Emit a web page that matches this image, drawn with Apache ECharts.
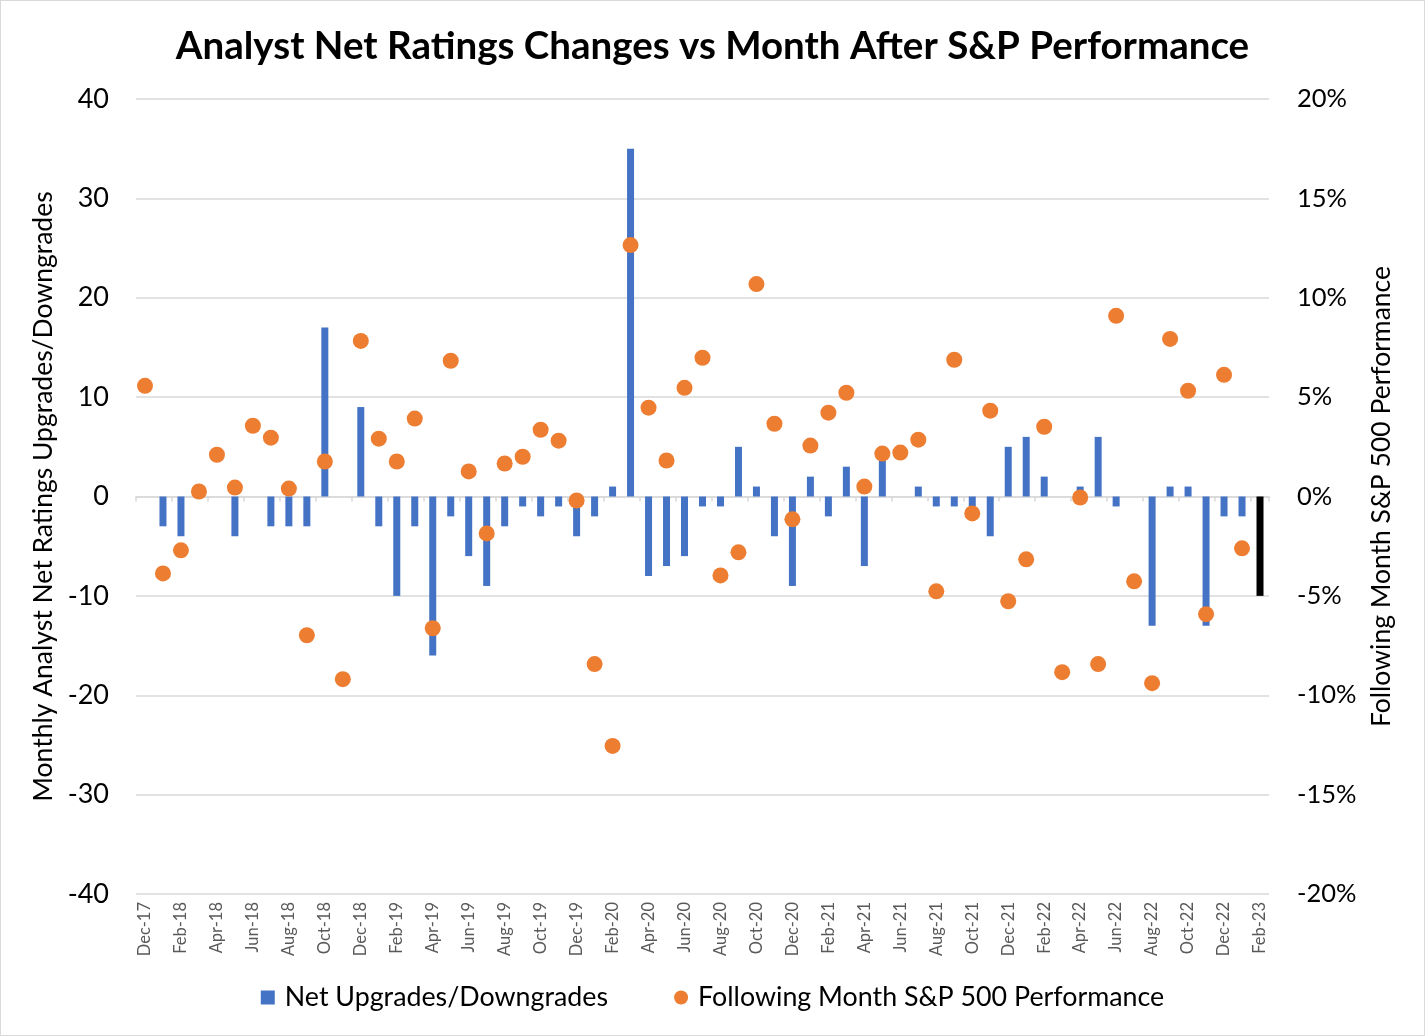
<!DOCTYPE html>
<html>
<head>
<meta charset="utf-8">
<script src="https://cdn.jsdelivr.net/npm/echarts@6/dist/echarts.min.js"></script>
<style>
html,body{margin:0;padding:0;background:#fff;}
#chart{width:1423px;height:1034px;border:1px solid #D9D9D9;}
</style>
</head>
<body>
<div id="chart"></div>
<script>
const months = ['Dec-17','Jan-18','Feb-18','Mar-18','Apr-18','May-18','Jun-18','Jul-18','Aug-18','Sep-18','Oct-18','Nov-18',
'Dec-18','Jan-19','Feb-19','Mar-19','Apr-19','May-19','Jun-19','Jul-19','Aug-19','Sep-19','Oct-19','Nov-19',
'Dec-19','Jan-20','Feb-20','Mar-20','Apr-20','May-20','Jun-20','Jul-20','Aug-20','Sep-20','Oct-20','Nov-20',
'Dec-20','Jan-21','Feb-21','Mar-21','Apr-21','May-21','Jun-21','Jul-21','Aug-21','Sep-21','Oct-21','Nov-21',
'Dec-21','Jan-22','Feb-22','Mar-22','Apr-22','May-22','Jun-22','Jul-22','Aug-22','Sep-22','Oct-22','Nov-22',
'Dec-22','Jan-23','Feb-23'];

const netRatings = [0,-3,-4,0,0,-4,0,-3,-3,-3,17,0,
9,-3,-10,-3,-16,-2,-6,-9,-3,-1,-2,-1,
-4,-2,1,35,-8,-7,-6,-1,-1,5,1,-4,
-9,2,-2,3,-7,4,0,1,-1,-1,-1,-4,
5,6,2,0,1,6,-1,0,-13,1,1,-13,
-2,-2,-10];

const spPerf = [5.57,-3.87,-2.71,0.25,2.1,0.45,3.56,2.96,0.4,-6.98,1.76,-9.19,
7.83,2.91,1.76,3.92,-6.63,6.83,1.26,-1.86,1.66,2.0,3.36,2.81,
-0.2,-8.43,-12.55,12.65,4.47,1.81,5.47,6.98,-3.97,-2.81,10.69,3.66,
-1.15,2.56,4.22,5.22,0.5,2.16,2.21,2.86,-4.77,6.88,-0.85,4.32,
-5.27,-3.16,3.51,-8.84,-0.05,-8.43,9.09,-4.27,-9.39,7.93,5.32,-5.92,
6.12,-2.61,null];

const leftTicks = {min:-40, max:40, interval:10};
const rightTicks = {min:-20, max:20, interval:5};

const blue = '#4472C4', orange = '#ED7D31';
const barData = netRatings.map((v,i)=> i === netRatings.length-1 ? {value:v, itemStyle:{color:'#000000'}} : v);

const chart = echarts.init(document.getElementById('chart'));
const font = 'Lato';
chart.setOption({
  animation:false,
  title:{
    text:'Analyst Net Ratings Changes vs Month After S&P Performance',
    left:'center', top:21,
    textStyle:{fontFamily:font, fontWeight:'bold', fontSize:38.5, color:'#000'}
  },
  legend:{
    bottom:19, left:'center', itemGap:66, itemWidth:14, itemHeight:14,
    textStyle:{fontFamily:font, fontSize:26.8, color:'#000', padding:[0,0,0,5]},
    data:[{name:'Net Upgrades/Downgrades', icon:'rect'},{name:'Following Month S&P 500 Performance', icon:'circle'}]
  },
  grid:{left:135, right:155, top:98, bottom:141},
  xAxis:[{
    type:'category', data:months, position:'bottom',
    axisLine:{show:false, onZero:false}, axisTick:{show:false},
    axisLabel:{interval:1, rotate:90, margin:8, fontFamily:font, fontSize:16.5, color:'#595959'}
  },{
    type:'category', data:months, position:'bottom',
    axisLine:{show:true, onZero:true, lineStyle:{color:'#D9D9D9', width:1.5}},
    axisTick:{show:true, interval:1, length:5, lineStyle:{color:'#D9D9D9', width:1.5}},
    axisLabel:{show:false, interval:1}
  }],
  yAxis:[{
    type:'value', min:leftTicks.min, max:leftTicks.max, interval:leftTicks.interval,
    name:'Monthly Analyst Net Ratings Upgrades/Downgrades', nameLocation:'middle', nameGap:73,
    nameTextStyle:{fontFamily:font, fontSize:26.5, color:'#000'},
    axisLine:{show:false}, axisTick:{show:false},
    axisLabel:{fontFamily:font, fontSize:27, color:'#000', margin:27},
    splitLine:{lineStyle:{color:'#D9D9D9', width:1.5}}
  },{
    type:'value', min:rightTicks.min, max:rightTicks.max, interval:rightTicks.interval, position:'right',
    name:'Following Month S&P 500 Performance', nameLocation:'middle', nameGap:99,
    nameTextStyle:{fontFamily:font, fontSize:26.5, color:'#000'},
    axisLine:{show:false}, axisTick:{show:false},
    axisLabel:{fontFamily:font, fontSize:25.5, color:'#000', margin:28, formatter:v=>v+'%'},
    splitLine:{show:false}
  }],
  series:[{
    name:'Net Upgrades/Downgrades', type:'bar', data:barData, xAxisIndex:0, yAxisIndex:0,
    barWidth:7, itemStyle:{color:blue}
  },{
    name:'Following Month S&P 500 Performance', type:'scatter', data:spPerf, xAxisIndex:0, yAxisIndex:1,
    symbolSize:16, itemStyle:{color:orange, opacity:1}, z:3
  }]
});
</script>
</body>
</html>
